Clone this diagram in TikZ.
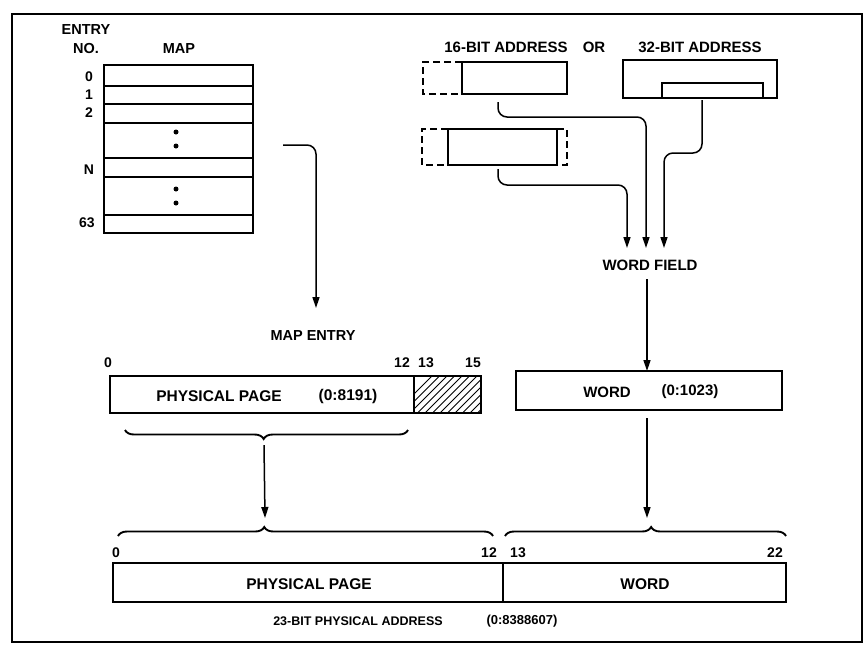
\documentclass[tikz,border=0pt]{standalone}
\usepackage{fontspec}
\setmainfont{Liberation Sans}
\usetikzlibrary{arrows.meta,decorations.pathreplacing}
\begin{document}
\begin{tikzpicture}[x=1pt,y=-1pt,
  box/.style={draw, line width=1.6pt, inner sep=0pt, outer sep=0pt},
  lbl/.style={font=\bfseries\fontsize{14.5}{16}\selectfont, inner sep=0pt},
  num/.style={font=\bfseries\fontsize{14}{16}\selectfont, inner sep=0pt},
  big/.style={font=\bfseries\fontsize{15}{17}\selectfont, inner sep=0pt},
  small/.style={font=\bfseries\fontsize{12.5}{14}\selectfont, inner sep=0pt},
  rowline/.style={line width=1.3pt},
  conn/.style={line width=1.5pt, rounded corners=9pt},
  arr/.style={conn, -{Triangle[length=11pt,width=7pt]}},
  dashbox/.style={line width=1.6pt, dash pattern=on 7pt off 4pt},
  brc/.style={line width=1.9pt, decorate},
]
\useasboundingbox (0,0) rectangle (866,649);
% frame
\draw[line width=1.7pt] (12,14) rectangle (862,642);

% ---------------- map table ----------------
\node[lbl] (entry) at (86,30) {ENTRY};
\node[lbl] (no) at (86,49) {NO.};
\node[lbl] (maplbl) at (179,49) {MAP};
\node[box, minimum width=149pt, minimum height=168pt] (map) at (178.5,149) {};
\foreach \yy in {86,104,123,158,177,215}
  \draw[rowline] (map.west |- 0,\yy) -- (map.east |- 0,\yy);
\node[num] (r0) at (89,77) {0};
\node[num] (r1) at (89,95) {1};
\node[num] (r2) at (89,113) {2};
\node[num] (rN) at (89,170) {N};
\node[num] (r63) at (87,223) {63};
\foreach \yy in {132,146,189,203}
  \fill (176,\yy) circle (2.5pt);

% map -> map entry
\node[lbl] (mapentry) at (313,336) {MAP ENTRY};
\coordinate (mapout) at (283,145);
\coordinate (mapin) at (316,308);
\draw[arr] (mapout) -- (316,145) -- (mapin);

% ---------------- addresses ----------------
\node[big] (t16) at (506,47) {16-BIT ADDRESS};
\node[big] (tor) at (594,47) {OR};
\node[big] (t32) at (700,47) {32-BIT ADDRESS};

\node[box, minimum width=105pt, minimum height=32pt] (b16) at (514.5,78) {};
\draw[dashbox] (b16.north west) -- (423,62) -- (423,94) -- (b16.south west);

\node[box, minimum width=154pt, minimum height=38pt] (b32) at (700,79) {};
\draw[line width=1.6pt] (662,98) -- (662,83) -- (763,83) -- (763,98);

\node[box, minimum width=109pt, minimum height=36pt] (b16b) at (502.5,147) {};
\draw[dashbox] (b16b.north west) -- (422,129) -- (422,165) -- (b16b.south west);
\draw[dashbox] (b16b.north east) -- (567,129) -- (567,165) -- (b16b.south east);

\node[big] (wf) at (650,265) {WORD FIELD};
\coordinate (s16) at (498,102);
\coordinate (s32) at (702,100);
\coordinate (s16b) at (498,169);
\coordinate (e16) at (646,248);
\coordinate (e32) at (664,248);
\coordinate (e16b) at (627,248);
\draw[arr] (s16) -- (498,117) -- (646,117) -- (e16);
\draw[arr] (s32) -- (702,153) -- (664,153) -- (e32);
\draw[arr] (s16b) -- (498,185) -- (627,185) -- (e16b);

% ---------------- word ----------------
\node[box, minimum width=266pt, minimum height=39pt] (wbox) at (649,390.5) {};
\node[big] at (607,392) {WORD};
\node[big] at (690,392) {(0:1023)};
\coordinate (wfout) at (647,279);
\draw[arr] (wfout) -- (wbox.north -| wfout);

% ---------------- map entry ----------------
\node[box, minimum width=304pt, minimum height=37pt] (pp) at (262,394.5) {};
\node[box, minimum width=67pt, minimum height=37pt] (hatch) at (447.5,394.5) {};
\begin{scope}
  \clip (414,376) rectangle (481,413);
  \foreach \i in {0,...,14}
    \draw[line width=1pt] (390+\i*7.5,418) -- ++(50,-50);
\end{scope}
\draw[line width=1.6pt] (414,376) rectangle (481,413);
\node[lbl, font=\bfseries\fontsize{15.5}{17}\selectfont] at (219,396) {PHYSICAL PAGE};
\node[lbl, font=\bfseries\fontsize{15.5}{17}\selectfont] at (348,396) {(0:8191)};
\node[num] at (108,363) {0};
\node[num] at (402,363) {12};
\node[num] at (426,363) {13};
\node[num] at (473,363) {15};

% braces
\draw[brc, decoration={brace, mirror, amplitude=9pt, aspect=0.49}] (125,430) -- (408,430);
\coordinate (bt1s) at (264,445);
\coordinate (bb1) at (265,518);
\draw[arr] (bt1s) -- (bb1);
\coordinate (wout) at (647,418);
\coordinate (bb2) at (647,518);
\draw[arr] (wout) -- (bb2);

\draw[brc, decoration={brace, amplitude=9pt, aspect=0.39}] (118,536) -- (493,536);
\draw[brc, decoration={brace, amplitude=9pt, aspect=0.52}] (505,536) -- (786,536);

% ---------------- physical address ----------------
\node[box, minimum width=673pt, minimum height=39pt] (pa) at (449.5,582.5) {};
\draw[line width=1.6pt] (503,563) -- (503,602);
\node[lbl, font=\bfseries\fontsize{15.5}{17}\selectfont] at (309,584) {PHYSICAL PAGE};
\node[lbl, font=\bfseries\fontsize{15.5}{17}\selectfont] at (645,584) {WORD};
\node[num] at (116,553) {0};
\node[num] at (489,553) {12};
\node[num] at (518,553) {13};
\node[num] at (775,553) {22};
\node[small] (pacap) at (358,621) {23-BIT PHYSICAL ADDRESS};
\node[small, font=\bfseries\fontsize{13}{15}\selectfont] at (522,621) {(0:8388607)};
\end{tikzpicture}
\end{document}
